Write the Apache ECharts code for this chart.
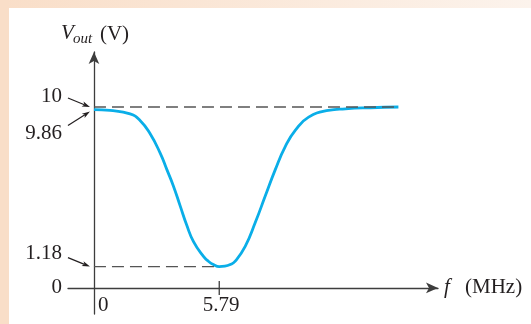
<!DOCTYPE html>
<html><head><meta charset="utf-8">
<script src="https://cdn.jsdelivr.net/npm/echarts@6/dist/echarts.min.js"></script>
<style>html,body{margin:0;padding:0;background:#fff}#c{width:531px;height:324px}</style>
</head><body><div id="c"></div>
<script>
// ---- data ----
const freq = [0, 0.74, 1.67, 2.13, 2.59, 3.06, 3.37, 3.67, 3.98, 4.29, 4.60, 5.06, 5.30, 5.52, 5.79, 6.05, 6.30, 6.53, 6.99, 7.45, 7.92, 8.38, 8.84, 9.31, 9.92, 10.83, 11.62, 12.78, 14.07];
const vout = [9.86, 9.81, 9.62, 9.26, 8.53, 7.45, 6.54, 5.64, 4.55, 3.46, 2.56, 1.74, 1.46, 1.29, 1.18, 1.20, 1.29, 1.48, 2.30, 3.60, 5.09, 6.54, 7.81, 8.72, 9.44, 9.81, 9.90, 9.96, 10.0];
const refLevels = [10, 1.18];
const refEnds = [14.07, 5.79];
const yTickValues = [10, 9.86, 1.18, 0];
const yTickLabels = ['10', '9.86', '1.18', '0'];
const xTickValues = [0, 5.79];
const xTickLabels = ['0', '5.79'];

const FONT = 'Liberation Serif';
const INK = '#231f20';
const AX = '#3d3d3d';
const FS = 21;

const chart = echarts.init(document.getElementById('c'), null, {renderer: 'canvas'});
const curve = freq.map((f, i) => [f, vout[i]]);
const refSeries = refLevels.map((lv, i) => ({
  type: 'line', data: [[0, lv], [refEnds[i], lv]], symbol: 'none', z: 5,
  lineStyle: {color: '#555', width: 1.4, type: [12, 6]}, silent: true
}));

chart.setOption({
  backgroundColor: '#fff',
  animation: false,
  grid: {left: 68, right: 93, top: 52, bottom: 10, containLabel: false, outerBoundsMode: 'none'},
  xAxis: {
    type: 'value', min: -1.2, max: 15.9,
    axisLine: {show: true, onZero: true, symbol: ['none', 'arrow'], symbolSize: [8, 12], lineStyle: {color: AX, width: 1.3}},
    axisTick: {show: false}, axisLabel: {show: false}, splitLine: {show: false}
  },
  yAxis: {
    type: 'value', min: -1.44, max: 13.04,
    axisLine: {show: true, onZero: true, symbol: ['none', 'arrow'], symbolSize: [8, 12], lineStyle: {color: AX, width: 1.3}},
    axisTick: {show: false}, axisLabel: {show: false}, splitLine: {show: false}
  },
  series: [
    {type: 'line', data: curve, smooth: 0.5, symbol: 'none', z: 3,
     lineStyle: {color: '#0aaee8', width: 2.8}},
    ...refSeries
  ]
});

const P = (x, y) => chart.convertToPixel({gridIndex: 0}, [x, y]);
const g = [];
// border
g.push({type: 'rect', shape: {x: 0, y: 0, width: 531, height: 8}, z: 100,
  style: {fill: new echarts.graphic.LinearGradient(0, 0, 1, 0, [{offset: 0, color: '#f9dec8'}, {offset: 1, color: '#fcf3ec'}])}});
g.push({type: 'rect', shape: {x: 0, y: 0, width: 9, height: 324}, z: 100, style: {fill: '#f9dec8'}});

function txt(x, y, s, opts) {
  g.push({type: 'text', x: x, y: y, z: 50,
    style: Object.assign({text: s, fill: INK, font: FS + 'px "' + FONT + '"', textVerticalAlign: 'middle', textAlign: 'left'}, opts || {})});
}
function arrow(s, e) {
  const dx = e[0] - s[0], dy = e[1] - s[1];
  const L = Math.hypot(dx, dy), ux = dx / L, uy = dy / L, px = -uy, py = ux;
  const hl = 8, hw = 2.6;
  const b = [e[0] - ux * hl, e[1] - uy * hl];
  const n = [e[0] - ux * (hl - 2), e[1] - uy * (hl - 2)];
  g.push({type: 'line', z: 50, shape: {x1: s[0], y1: s[1], x2: n[0], y2: n[1]}, style: {stroke: INK, lineWidth: 1.2}});
  g.push({type: 'polygon', z: 50, shape: {points: [e, [b[0] + px * hw, b[1] + py * hw], n, [b[0] - px * hw, b[1] - py * hw]]}, style: {fill: INK}});
}

// y labels with pointer arrows
const o = P(0, 0);
const labelRight = o[0] - 32;
const yOff = [[-11, -9, 0], [24, 16, 2], [-13, -9, 0], [0, null, null]];
yTickValues.forEach((v, i) => {
  const p = P(0, v);
  txt(labelRight, p[1] + yOff[i][0], yTickLabels[i], {textAlign: 'right'});
  if (yOff[i][1] !== null) arrow([p[0] - 26, p[1] + yOff[i][1]], [p[0] - 4, p[1] + yOff[i][2]]);
});
// x labels
xTickValues.forEach((v, i) => {
  const p = P(v, 0);
  if (v === 0) txt(p[0] + 4, p[1] + 18, xTickLabels[i]);
  else {
    txt(p[0] + 2, p[1] + 18, xTickLabels[i], {textAlign: 'center'});
    g.push({type: 'line', z: 50, shape: {x1: p[0], y1: p[1] - 7, x2: p[0], y2: p[1] + 7}, style: {stroke: AX, lineWidth: 1.3}});
  }
});
// axis titles
const xe = P(15.9, 0);
txt(xe[0] + 6, xe[1], 'f', {font: 'italic ' + FS + 'px "' + FONT + '"'});
txt(xe[0] + 27, xe[1], '(MHz)');
const yt = P(0, 13.04);
txt(yt[0] - 33, yt[1] - 19, 'V', {font: 'italic ' + FS + 'px "' + FONT + '"'});
txt(yt[0] - 21, yt[1] - 13, 'out', {font: 'italic 15px "' + FONT + '"'});
txt(yt[0] + 6, yt[1] - 18, '(V)');

chart.setOption({graphic: {elements: g}});
</script>
</body></html>
